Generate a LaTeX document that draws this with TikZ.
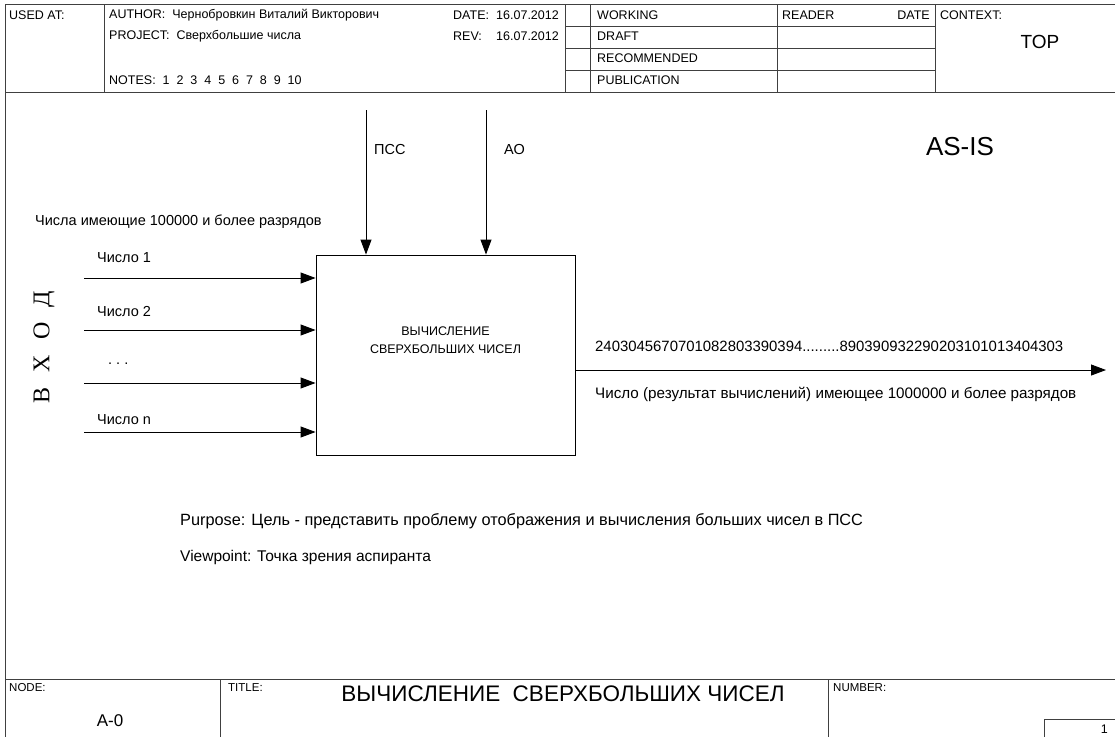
\documentclass[tikz,border=0pt]{standalone}
\usepackage{fontspec}
\setmainfont{Liberation Sans}
\newfontfamily\vhodfont{Liberation Serif}
\usetikzlibrary{arrows.meta, positioning, calc}

\begin{document}
\begin{tikzpicture}[
    x=1pt, y=-1pt,
    frame/.style={draw=black!75, line width=0.9pt},
    hdr/.style={anchor=west, inner sep=0pt, font=\fontsize{12.5}{14}\selectfont},
    txt/.style={anchor=west, inner sep=0pt, font=\fontsize{14.5}{17}\selectfont},
    fnbox/.style={rectangle, draw, line width=0.9pt, minimum width=259pt, minimum height=200pt},
    arrow/.style={-{Triangle[length=15pt, width=11pt]}, line width=0.9pt},
]
\useasboundingbox (0,0) rectangle (1115,736);

% frame of the form
\draw[frame] (5,4) rectangle (1118,740);
\draw[frame] (5,92) -- (1118,92);
\draw[frame] (104,4) -- (104,92);
\draw[frame] (565,4) -- (565,92);
\draw[frame] (590,4) -- (590,92);
\draw[frame] (777,4) -- (777,92);
\draw[frame] (935,4) -- (935,92);
\foreach \yy in {26,48,70}
    \draw[frame] (565,\yy) -- (935,\yy);
\draw[frame] (5,679) -- (1118,679);
\draw[frame] (220,679) -- (220,740);
\draw[frame] (828,679) -- (828,740);
\draw[frame] (1044,719) rectangle (1120,740);

% header texts
\node[hdr] (usedat) at (9,15) {USED AT:};
\node[hdr] (author) at (109,15) {AUTHOR:\ \ Чернобровкин Виталий Викторович};
\node[hdr] (project) at (109,36) {PROJECT:\ \ Сверхбольшие числа};
\node[hdr] (notes) at (109,80) {NOTES:\ \ 1\ \ 2\ \ 3\ \ 4\ \ 5\ \ 6\ \ 7\ \ 8\ \ 9\ \ 10};
\node[hdr] (datelbl) at (453,15) {DATE:};
\node[hdr, anchor=east] (dateval) at (559,15) {16.07.2012};
\node[hdr] (revlbl) at (453,36) {REV:};
\node[hdr, anchor=east] (revval) at (559,36) {16.07.2012};
\node[hdr] (working) at (597,15) {WORKING};
\node[hdr] (draft) at (597,36) {DRAFT};
\node[hdr] (recomm) at (597,58) {RECOMMENDED};
\node[hdr] (public) at (597,80) {PUBLICATION};
\node[hdr] (reader) at (782,15) {READER};
\node[hdr, anchor=east] (rdate) at (930,15) {DATE};
\node[hdr] (context) at (940,15) {CONTEXT:};
\node[inner sep=0pt, font=\fontsize{19}{22}\selectfont] (top) at (1040,42) {TOP};

% the function block
\node[fnbox] (func) at (445.5,355) {};
\node[align=center, font=\fontsize{12.5}{18}\selectfont] (functxt) at ($(func.center)+(0,-15)$) {ВЫЧИСЛЕНИЕ\\СВЕРХБОЛЬШИХ ЧИСЕЛ};

\node[inner sep=0pt, font=\fontsize{26}{29}\selectfont] (asis) at (960,147) {AS-IS};

% controls
\coordinate (pss) at (366,110);
\coordinate (ao) at (486,110);
\draw[arrow] (pss) -- (pss |- func.north);
\draw[arrow] (ao) -- (ao |- func.north);
\node[txt] (psslbl) at (374,150) {ПСС};
\node[txt] (aolbl) at (504,150) {АО};

% inputs
\node[txt] (inlbl) at (35,222) {Числа имеющие 100000 и более разрядов};
\node[inner sep=0pt, rotate=90, font=\vhodfont\fontsize{24}{26}\selectfont] (vhod) at (44,347) {В\hspace{15pt}Х\hspace{15pt}О\hspace{15pt}Д};
\coordinate (in1) at (84,278);
\coordinate (in2) at (84,330);
\coordinate (in3) at (84,383);
\coordinate (in4) at (84,432);
\foreach \k in {1,...,4}
    \draw[arrow] (in\k) -- (in\k -| func.west);
\node[txt] (num1) at (97,258) {Число 1};
\node[txt] (num2) at (97,312) {Число 2};
\node[txt] (numdots) at (108,364) {.\ .\ .};
\node[txt] (numn) at (97,420) {Число n};

% output
\coordinate (out) at (1106,370);
\draw[arrow] (func.east |- out) -- (out);
\node[txt, font=\fontsize{14.9}{17}\selectfont] (outval) at (595,346) {2403045670701082803390394.........890390932290203101013404303};
\node[txt, font=\fontsize{15.2}{17}\selectfont] (outlbl) at (595,394) {Число (результат вычислений) имеющее 1000000 и более разрядов};

\node[txt, font=\fontsize{16.3}{19}\selectfont] (purpose) at (180,521) {Purpose: Цель - представить проблему отображения и вычисления больших чисел в ПСС};
\node[txt, font=\fontsize{15.5}{18}\selectfont] (viewpoint) at (180,557) {Viewpoint: Точка зрения аспиранта};

% bottom of the form
\node[hdr, font=\fontsize{11.5}{13}\selectfont] (nodelbl) at (9,688) {NODE:};
\node[inner sep=0pt, font=\fontsize{17}{20}\selectfont] (nodeval) at (110,721) {A-0};
\node[hdr, font=\fontsize{11.5}{13}\selectfont] (titlelbl) at (228,688) {TITLE:};
\node[inner sep=0pt, font=\fontsize{22.5}{25}\selectfont] (titleval) at (563,694) {ВЫЧИСЛЕНИЕ\ \ СВЕРХБОЛЬШИХ ЧИСЕЛ};
\node[hdr, font=\fontsize{11.5}{13}\selectfont] (numlbl) at (833,688) {NUMBER:};
\node[hdr, anchor=east] (pagenum) at (1108,729) {1};

\end{tikzpicture}
\end{document}
